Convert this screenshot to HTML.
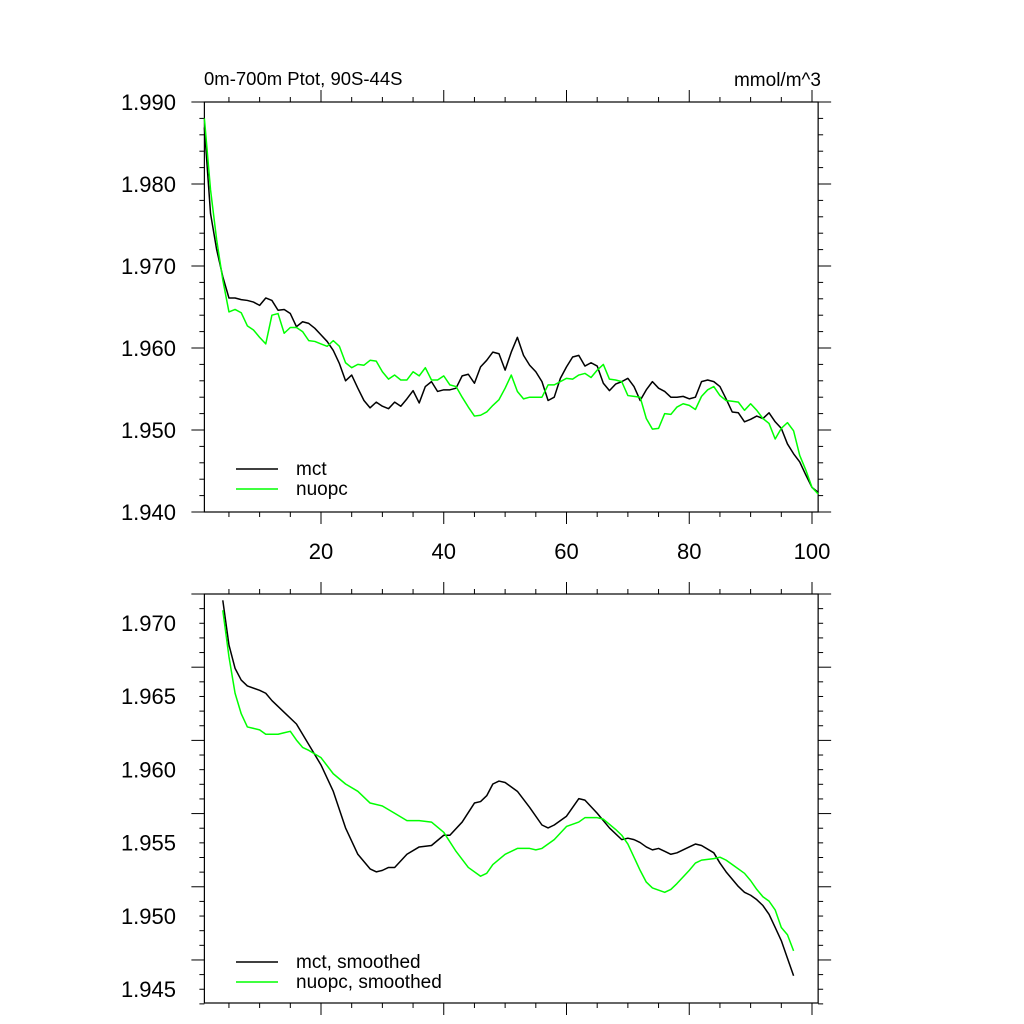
<!DOCTYPE html>
<html><head><meta charset="utf-8"><style>
html,body{margin:0;padding:0;background:#fff;}
svg{display:block;font-family:"Liberation Sans",Arial,sans-serif;}
</style></head><body>
<svg id="chart" width="1024" height="1024" viewBox="0 0 1024 1024">
<text x="204" y="85" font-size="18.5">0m-700m Ptot, 90S-44S</text>
<text x="821" y="86" font-size="19" text-anchor="end">mmol/m^3</text>
<g id="g1"></g>
<g id="g2"></g>
</svg>
<script>
const mct=[1.9869,1.9764,1.9720,1.9687,1.9661,1.9661,1.9659,1.9658,1.9656,1.9652,1.9661,1.9658,1.9646,1.9647,1.9642,1.9626,1.9632,1.9630,1.9624,1.9616,1.9608,1.9597,1.9581,1.9560,1.9567,1.9551,1.9536,1.9527,1.9534,1.9529,1.9526,1.9534,1.9529,1.9538,1.9548,1.9533,1.9553,1.9559,1.9547,1.9549,1.9549,1.9551,1.9566,1.9568,1.9557,1.9577,1.9585,1.9595,1.9593,1.9573,1.9595,1.9613,1.9591,1.9579,1.9571,1.9559,1.9536,1.9540,1.9563,1.9577,1.9589,1.9591,1.9578,1.9582,1.9578,1.9557,1.9548,1.9556,1.9559,1.9563,1.9553,1.9536,1.9549,1.9559,1.9551,1.9547,1.9540,1.9540,1.9541,1.9538,1.9540,1.9559,1.9561,1.9559,1.9553,1.9538,1.9522,1.9521,1.9510,1.9513,1.9517,1.9514,1.9521,1.9510,1.9502,1.9483,1.9471,1.9461,1.9445,1.9430,1.9424];
const nuopc=[1.9880,1.9793,1.9732,1.9683,1.9644,1.9647,1.9643,1.9627,1.9622,1.9613,1.9605,1.9640,1.9642,1.9618,1.9625,1.9625,1.9620,1.9609,1.9608,1.9605,1.9602,1.9609,1.9602,1.9582,1.9576,1.9580,1.9579,1.9585,1.9584,1.9571,1.9562,1.9567,1.9561,1.9561,1.9571,1.9566,1.9576,1.9561,1.9561,1.9566,1.9555,1.9553,1.9540,1.9528,1.9517,1.9518,1.9522,1.9530,1.9537,1.9551,1.9567,1.9547,1.9538,1.9540,1.9540,1.9540,1.9555,1.9555,1.9559,1.9563,1.9562,1.9567,1.9569,1.9564,1.9573,1.9580,1.9562,1.9561,1.9559,1.9542,1.9541,1.9540,1.9514,1.9501,1.9502,1.9520,1.9519,1.9528,1.9532,1.9530,1.9525,1.9541,1.9549,1.9553,1.9542,1.9536,1.9535,1.9534,1.9524,1.9532,1.9524,1.9514,1.9508,1.9489,1.9502,1.9509,1.9499,1.9469,1.9451,1.9430,1.9422];
const mctSmX=[4,5,6,7,8,10,11,12,14,16,18,20,22,24,26,28,29,30,31,32,34,36,38,40,41,43,45,46,47,48,49,50,52,54,56,57,58,60,62,63,65,67,69,70,71,72,73,74,75,76,77,78,80,81,82,84,85,86,88,89,90,91,92,93,94,95,96,97];
const mctSm=[1.97155,1.9685,1.9669,1.9661,1.9657,1.9654,1.9652,1.9647,1.9639,1.9631,1.9617,1.9603,1.9585,1.9560,1.9542,1.9532,1.9530,1.9531,1.9533,1.9533,1.9542,1.9547,1.9548,1.9555,1.9555,1.9564,1.9577,1.9578,1.9582,1.9590,1.9592,1.9591,1.9585,1.9574,1.9562,1.9560,1.9562,1.9568,1.9580,1.9579,1.9570,1.9560,1.9552,1.9553,1.9552,1.9550,1.9547,1.9545,1.9546,1.9544,1.9542,1.9543,1.9547,1.9549,1.9548,1.9543,1.9536,1.9530,1.9520,1.9516,1.9514,1.9511,1.9507,1.9501,1.9492,1.9483,1.9471,1.9459];
const nuSmX=[4,5,6,7,8,9,10,11,12,13,14,15,16,17,18,20,22,24,26,28,30,32,34,36,38,40,42,44,46,47,48,50,52,54,55,56,58,60,62,63,65,66,68,69,70,72,73,74,76,77,78,80,81,82,84,85,86,87,89,90,91,92,93,94,95,96,97];
const nuSm=[1.97087,1.9677,1.9652,1.9638,1.9629,1.9628,1.9627,1.9624,1.9624,1.9624,1.9625,1.9626,1.9620,1.9615,1.9613,1.9608,1.9597,1.9590,1.9585,1.9577,1.9575,1.9570,1.9565,1.9565,1.9564,1.9557,1.9544,1.9533,1.9527,1.9529,1.9535,1.9542,1.9546,1.9546,1.9545,1.9546,1.9552,1.9561,1.9564,1.9567,1.9567,1.9566,1.9559,1.9555,1.9549,1.9531,1.9523,1.9519,1.9516,1.9518,1.9522,1.9531,1.9536,1.9538,1.9539,1.9540,1.9538,1.9535,1.9529,1.9524,1.9518,1.9513,1.9510,1.9504,1.9492,1.9487,1.9476];
const xTicks=[20,40,60,80,100];
const yTicksTop=["1.990","1.980","1.970","1.960","1.950","1.940"];
const yTicksBot=["1.970","1.965","1.960","1.955","1.950","1.945"];

const NS="http://www.w3.org/2000/svg";
function mk(parent,tag,attrs){const e=document.createElementNS(NS,tag);for(const k in attrs)e.setAttribute(k,attrs[k]);parent.appendChild(e);return e;}
const xS=x=>198.25+x*6.1375;
const L=xS(1),R=xS(101);

function panel(g,top,bot,ymax,ymin,majStep,minStep,yLabels,showX,series,legendY){
  const yS=v=>top+(ymax-v)/(ymax-ymin)*(bot-top);
  const fr=mk(g,'rect',{x:L,y:top,width:R-L,height:bot-top,fill:'none',stroke:'#000','stroke-width':1.2});
  
  
  for(let x=5;x<=100;x+=5){
    const maj=x%20===0, len=maj?12:5, px=xS(x);
    const t1=mk(g,'line',{x1:px,x2:px,y1:top,y2:top-len,stroke:'#000','stroke-width':1});
    
    
    const t2=mk(g,'line',{x1:px,x2:px,y1:bot,y2:bot+len,stroke:'#000','stroke-width':1});
    
    
  }
  if(showX){xTicks.forEach(x=>{
    const t=mk(g,'text',{x:xS(x),y:559,'font-size':22,'text-anchor':'middle'});t.textContent=x;
    
    
  });}
  const n=Math.round((ymax-ymin)/minStep);
  const ratio=Math.round(majStep/minStep);
  for(let i=0;i<=n;i++){
    const v=ymax-i*minStep, py=yS(v), maj=i%ratio===0, len=maj?13:5;
    const a=mk(g,'line',{x1:L,x2:L-len,y1:py,y2:py,stroke:'#000','stroke-width':1});
    
    
    const b=mk(g,'line',{x1:R,x2:R+len,y1:py,y2:py,stroke:'#000','stroke-width':1});
    
    
  }
  yLabels.forEach(s=>{
    const t=mk(g,'text',{x:176,y:yS(parseFloat(s))+8,'font-size':22,'text-anchor':'end'});t.textContent=s;
    
    
  });
  series.forEach((s,k)=>{
    const d=s.y.map((v,i)=>(i?'L':'M')+xS(s.x[i]).toFixed(2)+','+yS(v).toFixed(2)).join('');
    const p=mk(g,'path',{d:d,fill:'none',stroke:s.c,'stroke-width':1.5,'stroke-linejoin':'round'});
    
    
    const ly=legendY+k*20;
    const ll=mk(g,'line',{x1:236,x2:278,y1:ly,y2:ly,stroke:s.c,'stroke-width':1.5});
    
    
    const lt=mk(g,'text',{x:296,y:ly+6,'font-size':19});lt.textContent=s.label;
    
    
  });
}
const idx=mct.map((_,i)=>i+1);
panel(document.getElementById('g1'),102,512,1.990,1.940,0.010,0.002,yTicksTop,true,
 [{x:idx,y:mct,c:'#000',label:'mct',name:'mct-line'},{x:idx,y:nuopc,c:'#00ff00',label:'nuopc',name:'nuopc-line'}],469);
panel(document.getElementById('g2'),594,1003,1.97198,1.94404,0.005,0.001,yTicksBot,false,
 [{x:mctSmX,y:mctSm,c:'#000',label:'mct, smoothed',name:'mct-smoothed-line'},{x:nuSmX,y:nuSm,c:'#00ff00',label:'nuopc, smoothed',name:'nuopc-smoothed-line'}],962);
</script>
</body></html>
